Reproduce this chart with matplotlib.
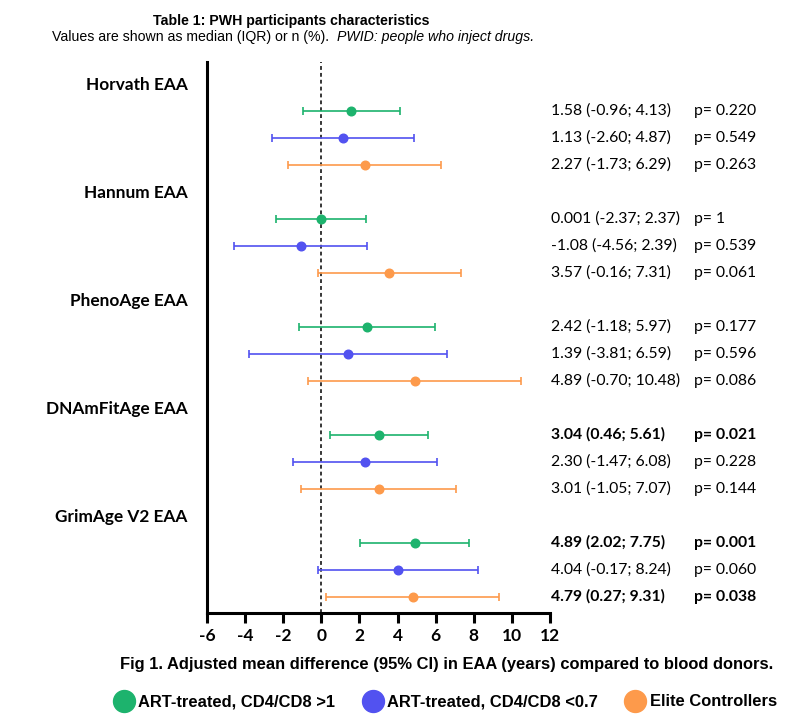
import matplotlib
matplotlib.use("Agg")
import matplotlib.pyplot as plt
from matplotlib.lines import Line2D
from matplotlib.transforms import blended_transform_factory

# ---------------- data ----------------
groups = ["Horvath EAA", "Hannum EAA", "PhenoAge EAA", "DNAmFitAge EAA", "GrimAge V2 EAA"]
series = ["ART-treated, CD4/CD8 >1", "ART-treated, CD4/CD8 <0.7", "Elite Controllers"]

# estimates per group, order of series
est = [[1.58, 1.13, 2.27],
       [0.001, -1.08, 3.57],
       [2.42, 1.39, 4.89],
       [3.04, 2.30, 3.01],
       [4.89, 4.04, 4.79]]
lo = [[-0.96, -2.60, -1.73],
      [-2.37, -4.56, -0.16],
      [-1.18, -3.81, -0.70],
      [0.46, -1.47, -1.05],
      [2.02, -0.17, 0.27]]
hi = [[4.13, 4.87, 6.29],
      [2.37, 2.39, 7.31],
      [5.97, 6.59, 10.48],
      [5.61, 6.08, 7.07],
      [7.75, 8.24, 9.31]]
est_txt = [["1.58", "1.13", "2.27"],
           ["0.001", "-1.08", "3.57"],
           ["2.42", "1.39", "4.89"],
           ["3.04", "2.30", "3.01"],
           ["4.89", "4.04", "4.79"]]
lo_txt = [["-0.96", "-2.60", "-1.73"],
          ["-2.37", "-4.56", "-0.16"],
          ["-1.18", "-3.81", "-0.70"],
          ["0.46", "-1.47", "-1.05"],
          ["2.02", "-0.17", "0.27"]]
hi_txt = [["4.13", "4.87", "6.29"],
          ["2.37", "2.39", "7.31"],
          ["5.97", "6.59", "10.48"],
          ["5.61", "6.08", "7.07"],
          ["7.75", "8.24", "9.31"]]
pvals = [["0.220", "0.549", "0.263"],
         ["1", "0.539", "0.061"],
         ["0.177", "0.596", "0.086"],
         ["0.021", "0.228", "0.144"],
         ["0.001", "0.060", "0.038"]]
xticks = [-6, -4, -2, 0, 2, 4, 6, 8, 10, 12]

title = "Table 1: PWH participants characteristics"
subtitle_plain = "Values are shown as median (IQR) or n (%).  "
subtitle_italic = "PWID: people who inject drugs."
caption = "Fig 1. Adjusted mean difference (95% CI) in EAA (years) compared to blood donors."

# ---------------- style ----------------
colors = ["#1db36d", "#5252f0", "#fd9a4b"]
W, H = 811, 727
fig = plt.figure(figsize=(W / 100, H / 100), dpi=100)
ax = fig.add_axes([207 / W, 1 - 613 / H, 343 / W, (613 - 62) / H])
trans = blended_transform_factory(fig.transFigure, ax.transData)

label_slots = []
for g in range(len(groups)):
    label_slots.append(4 * g)
    for s in range(3):
        y = 4 * g + 1 + s
        e = est[g][s]
        ax.errorbar(e, y, xerr=[[e - lo[g][s]], [hi[g][s] - e]], fmt="o",
                    color=colors[s], ms=6.2, lw=1.2, capsize=3.2, capthick=1.2,
                    zorder=3)
        fw = "bold" if float(pvals[g][s]) < 0.05 else "normal"
        ax.text(551 / W, y, f"{est_txt[g][s]} ({lo_txt[g][s]}; {hi_txt[g][s]})",
                transform=trans, ha="left", va="center", fontsize=11.3,
                family="Lato", fontweight=fw)
        ax.text(694 / W, y, f"p= {pvals[g][s]}", transform=trans,
                ha="left", va="center", fontsize=11.3, family="Lato", fontweight=fw)

ax.axvline(0, color="black", lw=1.1, ls=(0, (2.5, 2)), zorder=2)

ax.set_xlim(-6, 12)
ax.set_ylim(19.6, -0.8)
ax.set_xticks(xticks)
ax.set_xticklabels([str(t) for t in xticks], fontsize=12.5, family="Lato", fontweight="bold")
ax.set_yticks(label_slots)
ax.set_yticklabels(groups, fontsize=12.4, family="Lato", fontweight="bold")
ax.tick_params(axis="y", length=0, pad=14)
ax.tick_params(axis="x", length=7, width=2.2, pad=4)
for sp in ["top", "right"]:
    ax.spines[sp].set_visible(False)
for sp in ["left", "bottom"]:
    ax.spines[sp].set_linewidth(2.2)

# titles
fig.text(291 / W, 1 - 25 / H, title, ha="center", va="baseline",
         fontsize=10.2, family="Liberation Sans", fontweight="bold")
r = fig.canvas.get_renderer()
t1 = fig.text(0, 1 - 41.5 / H, subtitle_plain, ha="left", va="baseline",
              fontsize=10.2, family="Liberation Sans")
t2 = fig.text(0, 1 - 41.5 / H, subtitle_italic, ha="left", va="baseline",
              fontsize=10.2, family="Liberation Sans", style="italic")
w1 = t1.get_window_extent(r).width
w2 = t2.get_window_extent(r).width
x0 = 293 - (w1 + w2) / 2
t1.set_x(x0 / W)
t2.set_x((x0 + w1) / W)

fig.text(447 / W, 1 - 665 / H, caption, ha="center", va="center",
         fontsize=11.9, family="Liberation Sans", fontweight="bold")

handles = [Line2D([], [], ls="none", marker="o", ms=15.8, color=c) for c in colors]
fig.legend(handles, series, loc="center left", bbox_to_anchor=(113 / W, 1 - 702 / H),
           ncol=3, frameon=False, handletextpad=0.2, columnspacing=1.6,
           handlelength=1.33, borderpad=0, borderaxespad=0,
           prop={"family": "Liberation Sans", "weight": "bold", "size": 11.9})

fig.savefig("out.png", dpi=100)
